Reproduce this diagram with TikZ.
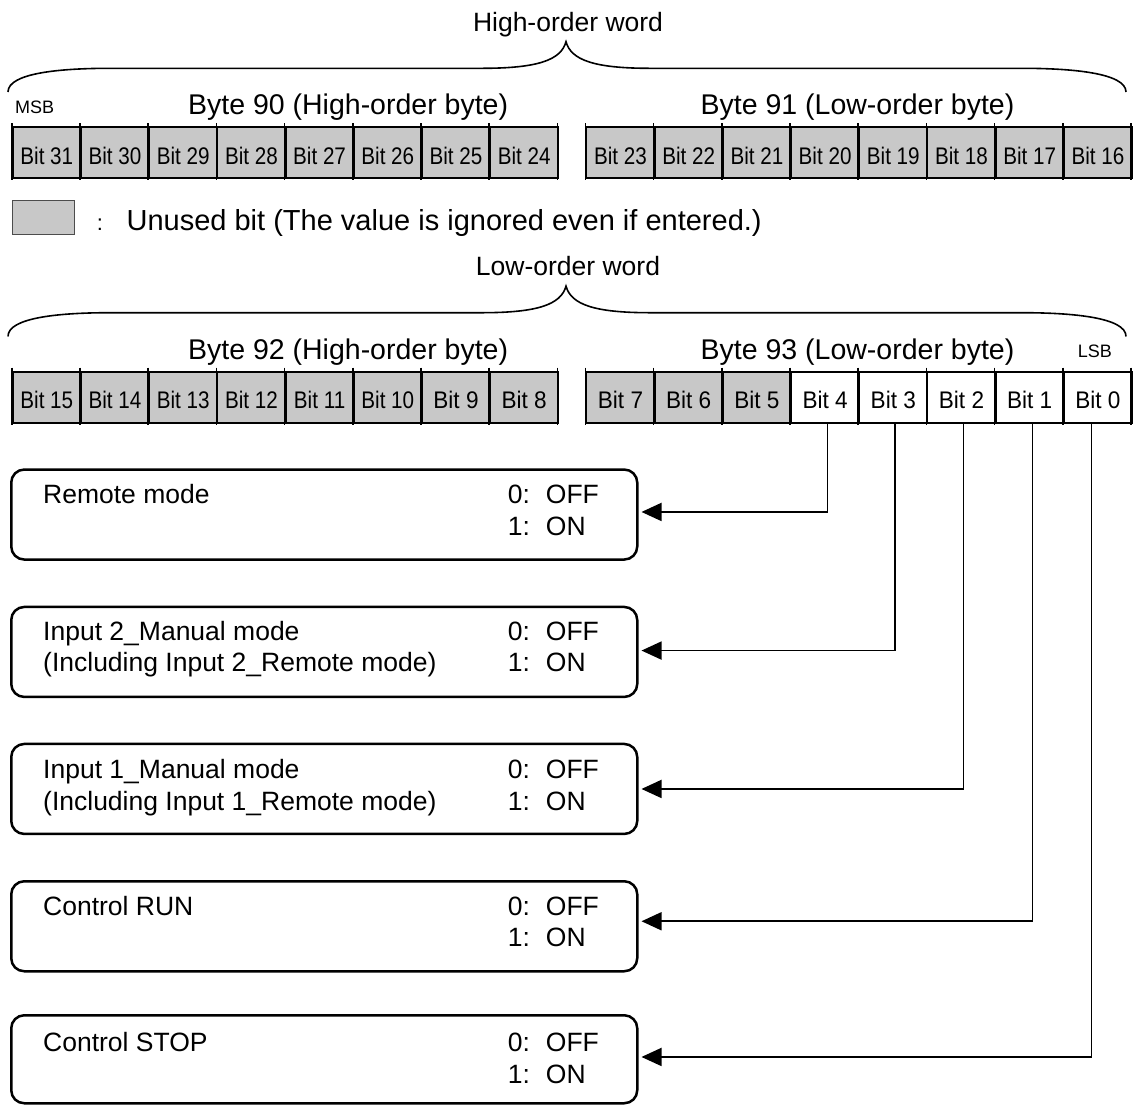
\documentclass[tikz,border=0pt]{standalone}
\usepackage{fontspec}
\setmainfont{Liberation Sans}
\usepackage{graphicx}
\usetikzlibrary{arrows.meta}
\definecolor{unusedgray}{RGB}{200,200,200}
% bit labels are set condensed so that they fit their cells
\newcommand\wide[1]{\scalebox{0.86}[1]{#1}}
\newcommand\narrow[1]{\scalebox{0.94}[1]{#1}}
\newcommand\onoff{\begin{tabular}[t]{@{}l@{\hspace{15.9pt}}l@{}}0: & OFF\\ 1: & ON\end{tabular}}
\newcommand\twolines[2]{\begin{tabular}[t]{@{}l@{}}#1\\ #2\end{tabular}}
\begin{document}
\begin{tikzpicture}[x=1pt,y=-1pt,
  bitcell/.style={draw=black, line width=2pt, minimum width=68.2pt, minimum height=51pt,
    inner sep=0pt, anchor=north west, text height=23.5pt, text depth=0pt,
    font=\fontsize{24}{28}\selectfont},
  spare/.style={bitcell, fill=unusedgray},
  live/.style={bitcell, fill=white},
  tick/.style={line width=1.6pt},
  bytelabel/.style={inner sep=0pt, font=\fontsize{28.5}{34}\selectfont},
  wordlabel/.style={inner sep=0pt, anchor=base, font=\fontsize{26.5}{32}\selectfont},
  endlabel/.style={inner sep=0pt, font=\fontsize{18}{22}\selectfont},
  brace/.style={line width=1.6pt},
  infobox/.style={draw=black, line width=2.5pt, rounded corners=13pt, minimum width=626pt,
    minimum height=90pt, anchor=north west, inner sep=0pt},
  boxtext/.style={inner sep=0pt, anchor=base west, font=\fontsize{26.5}{31.7}\selectfont},
  feed/.style={line width=1.7pt, -{Triangle[length=20pt,width=18pt]}, shorten >=3pt},
]
\fill[white] (0,0) rectangle (1137,1104);
\useasboundingbox (0,0) rectangle (1137,1104);

% ---- high-order word ----
\node[wordlabel] (hiword) at (568,31) {High-order word};
\draw[brace] (8,92) .. controls (8,73) and (60,68.3) .. (110,68.3) -- (482,68.3)
  .. controls (538,68.3) and (561,60) .. (566,41.7)
  .. controls (571,60) and (594,68.3) .. (650,68.3) -- (1022,68.3)
  .. controls (1072,68.3) and (1126,73) .. (1126,92);
\node[endlabel, anchor=base west] (msb) at (15,113) {MSB};
\node[bytelabel, anchor=base east] (byte90) at (508.3,114) {Byte 90 (High-order byte)};
\node[bytelabel, anchor=base] (byte91) at (857.5,114) {Byte 91 (Low-order byte)};

\foreach \i in {0,...,7}{
  \pgfmathtruncatemacro\n{31-\i}
  \node[spare] (b\n) at ({11.7+68.2*\i},126) {\wide{Bit \n}};
  \pgfmathtruncatemacro\m{23-\i}
  \node[spare] (b\m) at ({585.4+68.2*\i},126) {\wide{Bit \m}};
}

% ---- legend ----
\node[draw=black!70, line width=1pt, fill=unusedgray, minimum width=62pt, minimum height=34pt,
  anchor=north west, inner sep=0pt] (key) at (11.5,200) {};
\node[inner sep=0pt, anchor=base, font=\fontsize{22}{26}\selectfont] (keycolon) at (100,230.7) {:};
\node[inner sep=0pt, anchor=base west, font=\fontsize{29}{34}\selectfont] (keytext) at (126.4,230.7)
  {Unused bit (The value is ignored even if entered.)};

% ---- low-order word ----
\node[wordlabel] (loword) at (568,275.4) {Low-order word};
\draw[brace, yshift=-244.4pt] (8,92) .. controls (8,73) and (60,68.3) .. (110,68.3) -- (482,68.3)
  .. controls (538,68.3) and (561,60) .. (566,41.7)
  .. controls (571,60) and (594,68.3) .. (650,68.3) -- (1022,68.3)
  .. controls (1072,68.3) and (1126,73) .. (1126,92);
\node[bytelabel, anchor=base east] (byte92) at (508.3,359) {Byte 92 (High-order byte)};
\node[bytelabel, anchor=base] (byte93) at (857.5,359) {Byte 93 (Low-order byte)};
\node[endlabel, anchor=base east] (lsb) at (1112,357) {LSB};

\foreach \i in {0,...,7}{
  \pgfmathtruncatemacro\k{15-\i}
  \ifnum\k>9
    \node[spare] (b\k) at ({11.7+68.2*\i},370.7) {\wide{Bit \k}};
  \else
    \node[spare] (b\k) at ({11.7+68.2*\i},370.7) {\narrow{Bit \k}};
  \fi
  \pgfmathtruncatemacro\j{7-\i}
  \def\kind{live}\ifnum\j>4 \def\kind{spare}\fi
  \node[\kind] (b\j) at ({585.4+68.2*\i},370.7) {\narrow{Bit \j}};
}

% small overshoot of the cell dividers above and below each row
\foreach \x in {0,...,8}{
  \draw[tick] ({11.7+68.2*\x},123) -- ({11.7+68.2*\x},180);
  \draw[tick] ({585.4+68.2*\x},123) -- ({585.4+68.2*\x},180);
  \draw[tick] ({11.7+68.2*\x},367.7) -- ({11.7+68.2*\x},424.7);
  \draw[tick] ({585.4+68.2*\x},367.7) -- ({585.4+68.2*\x},424.7);
}

% ---- status boxes ----
\node[infobox] (m4) at (10,468.3) {};
\node[infobox] (m3) at (10,605.7) {};
\node[infobox] (m2) at (10,742.7) {};
\node[infobox] (m1) at (10,880) {};
\node[infobox, minimum height=88pt] (m0) at (10,1014) {};

\node[boxtext] (t4) at (43,503.3) {Remote mode};
\node[boxtext] (v4) at (507.7,503.3) {\onoff};
\node[boxtext] (t3) at (43,640) {\twolines{Input 2\_Manual mode}{(Including Input 2\_Remote mode)}};
\node[boxtext] (v3) at (507.7,640) {\onoff};
\node[boxtext] (t2) at (43,778.3) {\twolines{Input 1\_Manual mode}{(Including Input 1\_Remote mode)}};
\node[boxtext] (v2) at (507.7,778.3) {\onoff};
\node[boxtext] (t1) at (43,915) {Control RUN};
\node[boxtext] (v1) at (507.7,915) {\onoff};
\node[boxtext] (t0) at (43,1051.7) {Control STOP};
\node[boxtext] (v0) at (507.7,1051.7) {\onoff};

% ---- bit-to-box connectors ----
\draw[feed] ([xshift=2.5pt]b4.south) |- ([yshift=2.6pt]m4.east);
\draw[feed] ([xshift=1.8pt]b3.south) |- ([yshift=1.4pt]m3.east);
\draw[feed] ([xshift=2pt]b2.south) |- (m2.east);
\draw[feed] ([xshift=2.8pt]b1.south) |- ([yshift=5pt]m1.east);
\draw[feed] ([xshift=-6.4pt]b0.south) |- ([yshift=2.3pt]m0.east);
\end{tikzpicture}
\end{document}
